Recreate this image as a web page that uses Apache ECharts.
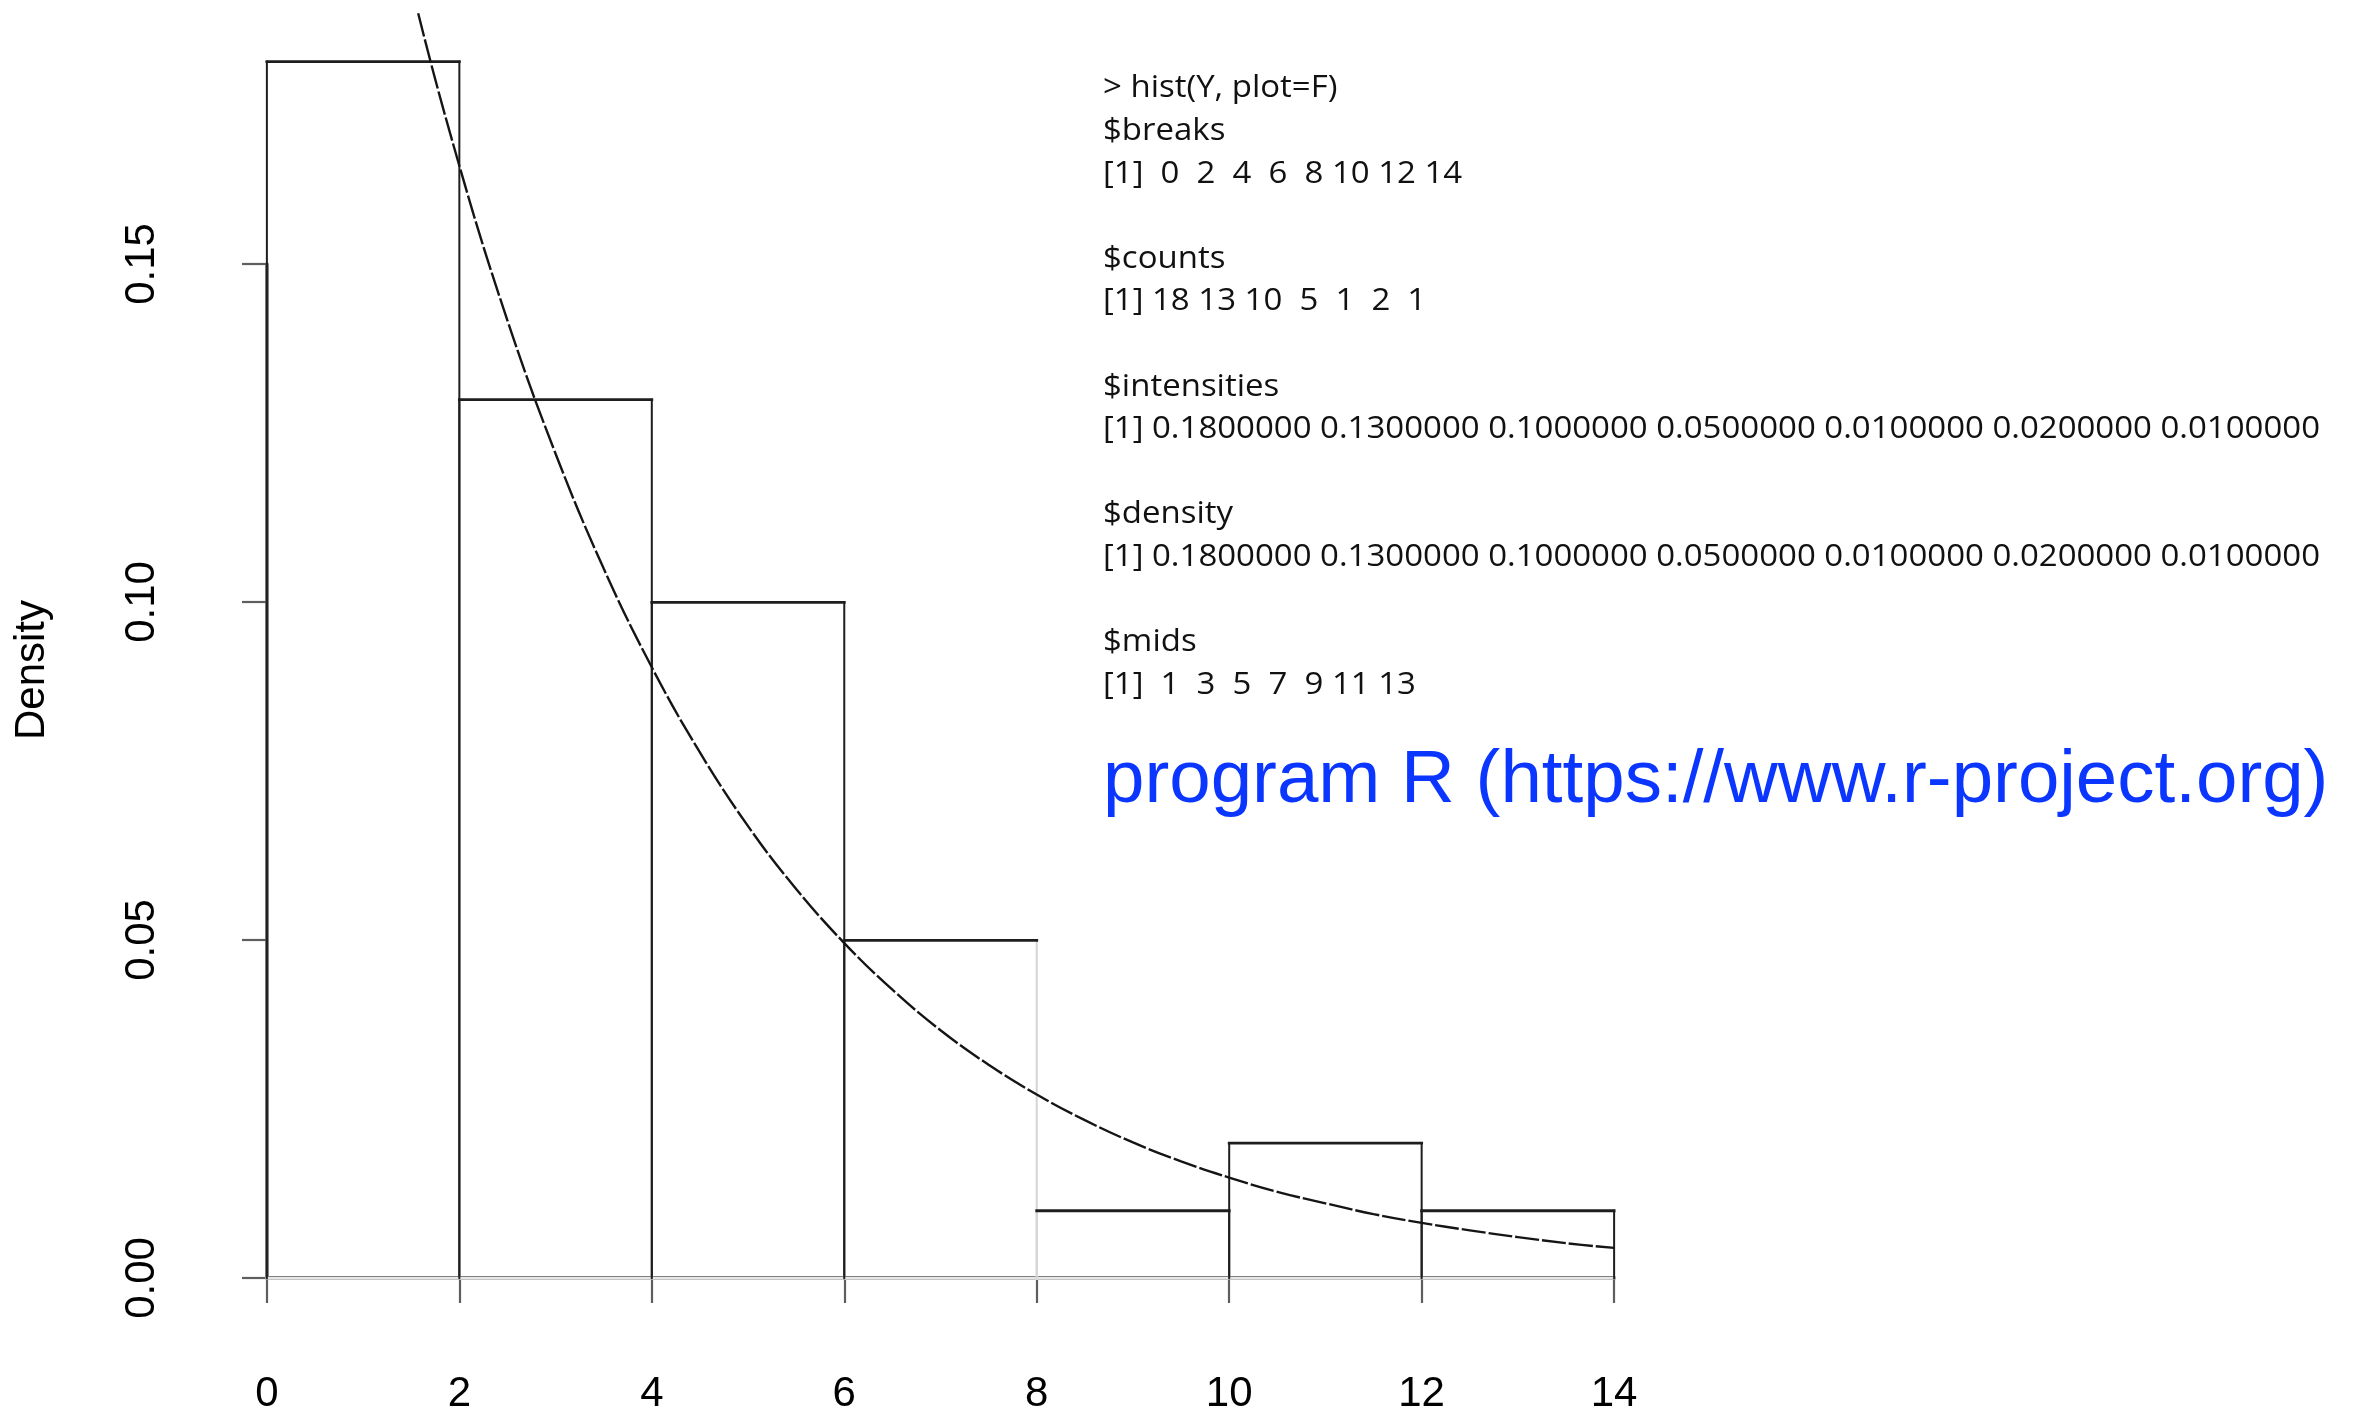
<!DOCTYPE html>
<html>
<head>
<meta charset="utf-8">
<script src="https://cdn.jsdelivr.net/npm/echarts@6/dist/echarts.min.js"></script>
<style>
  html, body { margin: 0; padding: 0; background: #ffffff; }
  #chart { width: 2354px; height: 1410px; }
</style>
</head>
<body>
<div id="chart"></div>
<script>
// ---- hist(Y) result ----
const breaks = [0, 2, 4, 6, 8, 10, 12, 14];
const counts = [18, 13, 10, 5, 1, 2, 1];
const intensities = [0.18, 0.13, 0.10, 0.05, 0.01, 0.02, 0.01];
const density = [0.18, 0.13, 0.10, 0.05, 0.01, 0.02, 0.01];
const mids = [1, 3, 5, 7, 9, 11, 13];

// ---- fitted density curve, sampled along x ----
const curveX = [1.0, 1.5, 2.0, 2.5, 3.0, 3.5, 4.0, 4.5, 5.0, 5.5, 6.0, 6.5, 7.0,
                7.5, 8.0, 8.5, 9.0, 9.5, 10.0, 10.5, 11.0, 11.5, 12.0, 12.5, 13.0, 13.5, 14.0];
const curveY = [0.2222, 0.1913, 0.1646, 0.1417, 0.1220, 0.1050, 0.0904, 0.0778, 0.0669,
                0.0576, 0.0496, 0.0427, 0.0367, 0.0316, 0.0272, 0.0234, 0.0201, 0.0173,
                0.0149, 0.0128, 0.0111, 0.0095, 0.0082, 0.0071, 0.0061, 0.0052, 0.0045];

// ---- axis ranges ----
const xRange = [0, 14];           // labelled x axis
const yRange = [0, 0.15];         // labelled y axis
const plotX = [-0.56, 14.56];     // plotting region (4% padding like base R)
const plotY = [-0.0072, 0.1872];

// ---- styles ----
const INK = '#1e1e1e';
const AXIS_GREY = '#5e5e5e';
const FAINT = '#d4d4d4';
const faintBreaks = [8];          // edge rendered in a light tone
const AXIS_FONT = 'Liberation Sans, Arial, Helvetica, sans-serif';
const CONSOLE_FONT_SIZE = 31;
const CONSOLE_FONT = CONSOLE_FONT_SIZE + 'px "Open Sans"';

// R-style printing of a vector: right aligned to a common width
function rVector(vals, fmt) {
  const s = vals.map(fmt);
  const w = Math.max.apply(null, s.map(t => t.length));
  return '[1] ' + s.map(t => t.padStart(w, ' ')).join(' ');
}
const consoleLines = [
  '> hist(Y, plot=F)',
  '$breaks',
  rVector(breaks, v => String(v)),
  '',
  '$counts',
  rVector(counts, v => String(v)),
  '',
  '$intensities',
  rVector(intensities, v => v.toFixed(7)),
  '',
  '$density',
  rVector(density, v => v.toFixed(7)),
  '',
  '$mids',
  rVector(mids, v => String(v))
];

// stretch the console text to the width of its column
const measure = document.createElement('canvas').getContext('2d');
measure.font = CONSOLE_FONT;
const longest = consoleLines.reduce((a, b) => (b.length > a.length ? b : a), '');
const consoleScale = 1217 / measure.measureText(longest).width;

const consoleGraphics = consoleLines
  .map((t, i) => ({ t, i }))
  .filter(o => o.t.length)
  .map(o => ({
    type: 'text',
    x: 1103,
    y: 88.5 + o.i * 42.6,
    scaleX: consoleScale,
    style: {
      text: o.t,
      font: CONSOLE_FONT,
      fill: '#111111',
      align: 'left',
      verticalAlign: 'middle'
    }
  }));

const barData = density.map((d, i) => [breaks[i], breaks[i + 1], d]);

function renderBar(params, api) {
  const x0 = api.value(0), x1 = api.value(1), h = api.value(2);
  const a = api.coord([x0, 0]);
  const b = api.coord([x1, h]);
  const L = a[0], R = b[0], B = a[1], T = b[1];
  const seg = (x1_, y1_, x2_, y2_, color, w) => ({
    type: 'line',
    shape: { x1: x1_, y1: y1_, x2: x2_, y2: y2_ },
    style: { stroke: color, lineWidth: w, lineCap: 'square' }
  });
  return {
    type: 'group',
    children: [
      seg(L, B, R, B, '#e6e6e6', 3),
      seg(L, B, L, T, faintBreaks.includes(x0) ? FAINT : INK, 2),
      seg(R, B, R, T, faintBreaks.includes(x1) ? FAINT : INK, 2),
      seg(L, T, R, T, INK, 2.8)
    ]
  };
}

const chart = echarts.init(document.getElementById('chart'), null, { renderer: 'canvas' });

chart.setOption({
  backgroundColor: '#ffffff',
  animation: false,
  grid: [
    // axes frame: spans exactly the labelled ranges
    { left: 267, right: 740, top: 264, bottom: 132, outerBoundsMode: 'none', containLabel: false },
    // plotting region
    { left: 213, right: 686, top: 13, bottom: 83, outerBoundsMode: 'none', containLabel: false }
  ],
  xAxis: [
    {
      gridIndex: 0, type: 'value', min: xRange[0], max: xRange[1], interval: 2,
      position: 'bottom', offset: 49,
      axisLine: { show: true, lineStyle: { color: AXIS_GREY, width: 4 } },
      axisTick: { show: true, length: 25, lineStyle: { color: AXIS_GREY, width: 2.2 } },
      axisLabel: { show: true, margin: 46, color: '#000', fontSize: 42, fontFamily: AXIS_FONT },
      splitLine: { show: false }
    },
    {
      gridIndex: 1, type: 'value', min: plotX[0], max: plotX[1], show: false
    }
  ],
  yAxis: [
    {
      gridIndex: 0, type: 'value', min: yRange[0], max: yRange[1], interval: 0.05,
      position: 'left', offset: 54,
      axisLine: { show: true, lineStyle: { color: AXIS_GREY, width: 3.5 } },
      axisTick: { show: true, length: 25, lineStyle: { color: AXIS_GREY, width: 2.2 } },
      axisLabel: {
        show: true, rotate: 90, margin: 50, color: '#000', fontSize: 42, fontFamily: AXIS_FONT,
        formatter: v => v.toFixed(2)
      },
      splitLine: { show: false }
    },
    {
      gridIndex: 1, type: 'value', min: plotY[0], max: plotY[1],
      name: 'Density', nameLocation: 'middle', nameRotate: 90, nameGap: 160,
      nameTextStyle: { color: '#000', fontSize: 42, fontFamily: AXIS_FONT },
      axisLine: { show: false }, axisTick: { show: false }, axisLabel: { show: false },
      splitLine: { show: false }
    }
  ],
  series: [
    {
      type: 'custom',
      xAxisIndex: 1, yAxisIndex: 1,
      renderItem: renderBar,
      encode: { x: [0, 1], y: 2 },
      data: barData,
      clip: true,
      silent: true
    },
    {
      type: 'line',
      xAxisIndex: 1, yAxisIndex: 1,
      data: curveX.map((x, i) => [x, curveY[i]]),
      showSymbol: false,
      smooth: 0.4,
      clip: true,
      silent: true,
      lineStyle: { color: '#151515', width: 2.4, type: [24, 3] }
    }
  ],
  graphic: consoleGraphics.concat([
    {
      type: 'text',
      x: 1103,
      y: 781,
      style: {
        text: 'program R (https://www.r-project.org)',
        font: '74.5px Liberation Sans, Arial, Helvetica, sans-serif',
        fill: '#0a36ff',
        align: 'left',
        verticalAlign: 'middle'
      }
    }
  ])
});
</script>
</body>
</html>
